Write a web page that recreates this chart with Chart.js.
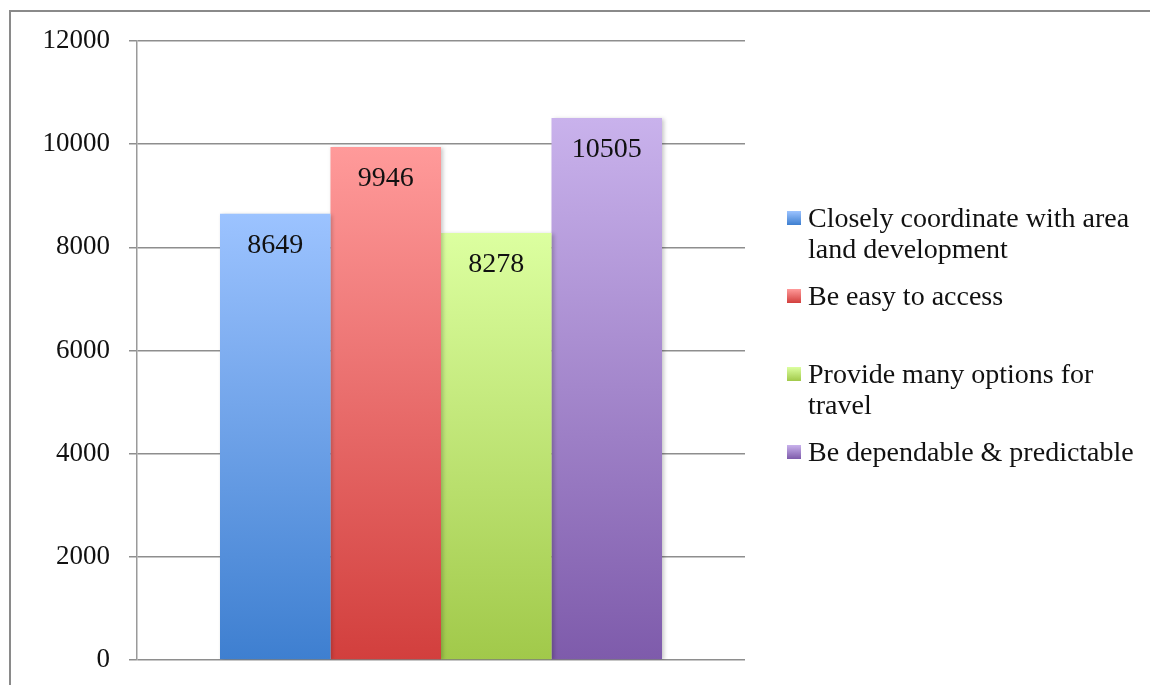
<!DOCTYPE html>
<html>
<head>
<meta charset="utf-8">
<script src="https://cdn.jsdelivr.net/npm/chart.js@4.4.1/dist/chart.umd.min.js"></script>
<style>
  html, body { margin: 0; padding: 0; background: #fff; }
  #wrap { position: relative; width: 1150px; height: 685px; overflow: hidden; }
  #frame { position: absolute; left: 9px; top: 10px; width: 1200px; height: 800px; border: 2px solid #8a8a8a; box-sizing: border-box; }
  #myChart { position: absolute; left: 0; top: 0; }
  #legend { position: absolute; left: 787px; top: 202px; font-family: 'Liberation Serif', serif; font-size: 28px; line-height: 31px; color: #111; }
  .item { position: absolute; left: 0; width: 360px; }
  .box { position: absolute; left: 0; top: 9px; width: 14px; height: 14px; }
  .txt { margin-left: 21px; width: 335px; }
</style>
</head>
<body>
<div id="wrap">
  <div id="frame"></div>
  <canvas id="myChart" width="1150" height="685"></canvas>
  <div id="legend"></div>
</div>
<script>
const labels = ['Closely coordinate with area land development', 'Be easy to access', 'Provide many options for travel', 'Be dependable & predictable'];
const values = [8649, 9946, 8278, 10505];
const topColors = ['#9cc3ff', '#ff9a9a', '#dcffa0', '#c9b2ec'];
const bottomColors = ['#3e7fd0', '#d23f3d', '#a1c94a', '#7e5bab'];
const yTicks = [0, 2000, 4000, 6000, 8000, 10000, 12000];

const serif = "'Liberation Serif', serif";

function barGradient(i) {
  return function (context) {
    const chart = context.chart;
    if (!chart.chartArea) return topColors[i];
    const yScale = chart.scales.y;
    const top = yScale.getPixelForValue(values[i]);
    const bottom = yScale.getPixelForValue(0);
    const g = chart.ctx.createLinearGradient(0, top, 0, bottom);
    g.addColorStop(0, topColors[i]);
    g.addColorStop(1, bottomColors[i]);
    return g;
  };
}

const datasets = labels.map(function (name, i) {
  return {
    label: name,
    data: [values[i]],
    backgroundColor: barGradient(i),
    borderWidth: 0
  };
});

// value labels a bit below the top of each bar
const valueLabels = {
  id: 'valueLabels',
  afterDatasetsDraw(chart) {
    const ctx = chart.ctx;
    ctx.save();
    ctx.font = '28px ' + serif;
    ctx.fillStyle = '#111';
    ctx.textAlign = 'center';
    ctx.textBaseline = 'middle';
    chart.data.datasets.forEach(function (ds, i) {
      const bar = chart.getDatasetMeta(i).data[0];
      ctx.fillText(String(ds.data[0]), bar.x, bar.y + 32);
    });
    ctx.restore();
  }
};

// soft shadow on the right of the bars
const barShadow = {
  id: 'barShadow',
  beforeDatasetsDraw(chart) {
    const ctx = chart.ctx;
    ctx.save();
    ctx.shadowColor = 'rgba(0,0,0,0.22)';
    ctx.shadowBlur = 4;
    ctx.shadowOffsetX = 2;
    ctx.shadowOffsetY = 1;
  },
  afterDatasetsDraw(chart) {
    chart.ctx.restore();
  }
};

const config = {
  type: 'bar',
  data: { labels: [''], datasets: datasets },
  options: {
    responsive: false,
    animation: false,
    layout: { padding: { left: 0, top: 41, right: 405, bottom: 25 } },
    datasets: { bar: { categoryPercentage: 0.727, barPercentage: 1 } },
    plugins: { legend: { display: false }, tooltip: { enabled: false } },
    scales: {
      x: { display: false },
      y: {
        min: 0,
        max: 12000,
        afterFit(scale) {
          scale.width = 137;
          scale.paddingTop = 0;
          scale.paddingBottom = 0;
        },
        afterBuildTicks(scale) { scale.ticks = yTicks.map(function (v) { return { value: v }; }); },
        grid: { color: '#8e8e8e', lineWidth: 1.5, tickLength: 8, drawTicks: true },
        border: { display: true, color: '#9a9a9a', width: 1.5 },
        ticks: {
          padding: 19,
          color: '#111',
          font: { family: serif, size: 27 },
          callback: function (v) { return String(v); }
        }
      }
    }
  },
  plugins: [barShadow, valueLabels]
};

const myChart = new Chart(document.getElementById('myChart'), config);

// legend on the right, one 78px slot per series
const legend = document.getElementById('legend');
labels.forEach(function (name, i) {
  const item = document.createElement('div');
  item.className = 'item';
  item.style.top = (i * 78) + 'px';
  const box = document.createElement('div');
  box.className = 'box';
  box.style.background = 'linear-gradient(' + topColors[i] + ', ' + bottomColors[i] + ')';
  const txt = document.createElement('div');
  txt.className = 'txt';
  txt.textContent = name;
  item.appendChild(box);
  item.appendChild(txt);
  legend.appendChild(item);
});
</script>
</body>
</html>
